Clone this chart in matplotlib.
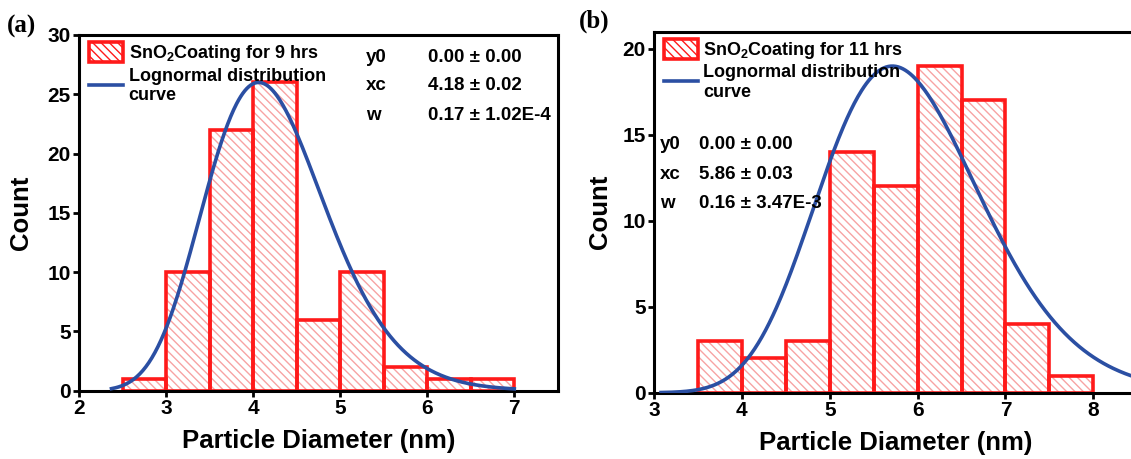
import numpy as np
import matplotlib
matplotlib.use("Agg")
import matplotlib.pyplot as plt
from matplotlib.patches import Patch
from matplotlib.lines import Line2D

plt.rcParams['font.family'] = ['Liberation Sans', 'DejaVu Sans']
plt.rcParams['hatch.linewidth'] = 1.0
plt.rcParams['mathtext.fontset'] = 'custom'
plt.rcParams['mathtext.rm'] = 'Liberation Sans:bold'
plt.rcParams['mathtext.bf'] = 'Liberation Sans:bold'

# ---- data: particle size histograms (bin left edges, counts) ----
bin_width = 0.5
bins_9h = [2.5, 3.0, 3.5, 4.0, 4.5, 5.0, 5.5, 6.0, 6.5]
counts_9h = [1, 10, 22, 26, 6, 10, 2, 1, 1]

bins_11h = [3.5, 4.0, 4.5, 5.0, 5.5, 6.0, 6.5, 7.0, 7.5]
counts_11h = [3, 2, 3, 14, 12, 19, 17, 4, 1]

# lognormal fit parameters (y0, xc, w) and fitted peak heights
fit_9h = dict(y0=0.0, xc=4.18, w=0.17, peak=26.0, x_range=(2.37, 7.0))
fit_11h = dict(y0=0.0, xc=5.86, w=0.16, peak=19.0, x_range=(3.08, 8.6))

param_rows_9h = [("y0", "0.00 \u00b1 0.00"), ("xc", "4.18 \u00b1 0.02"),
                 ("w", "0.17 \u00b1 1.02E-4")]
param_rows_11h = [("y0", "0.00 \u00b1 0.00"), ("xc", "5.86 \u00b1 0.03"),
                  ("w", "0.16 \u00b1 3.47E-3")]

RED = '#ff1a1a'
HATCH = '#f7a3a3'
BLUE = '#2b4fa3'


def lognormal(x, y0, xc, w, peak):
    # Origin-style LogNormal, amplitude set from the peak height at the mode
    mode = xc * np.exp(-w ** 2)
    area = peak * np.sqrt(2 * np.pi) * w * mode * np.exp(w ** 2 / 2)
    return y0 + area / (np.sqrt(2 * np.pi) * w * x) * np.exp(
        -np.log(x / xc) ** 2 / (2 * w ** 2))


def draw_panel(ax, bins, counts, fit, label, rows, row_xy, xlim, ylim,
               xticks, yticks):
    # hatched fill, then the solid red outline on top
    ax.bar(bins, counts, width=bin_width, align='edge', color='white',
           edgecolor=HATCH, linewidth=0, hatch='\\\\\\\\', zorder=1)
    ax.bar(bins, counts, width=bin_width, align='edge', fill=False,
           edgecolor=RED, linewidth=2.6, zorder=2)
    x = np.linspace(fit['x_range'][0], fit['x_range'][1], 400)
    ax.plot(x, lognormal(x, fit['y0'], fit['xc'], fit['w'], fit['peak']),
            color=BLUE, lw=2.6, zorder=3, clip_on=True)

    ax.set_xlim(*xlim)
    ax.set_ylim(*ylim)
    ax.set_xticks(xticks)
    ax.set_yticks(yticks)
    for s in ax.spines.values():
        s.set_linewidth(2.2)
    ax.tick_params(direction='out', length=4, width=2, labelsize=15,
                   pad=2)
    for t in ax.get_xticklabels() + ax.get_yticklabels():
        t.set_fontweight('bold')
    ax.set_xlabel('Particle Diameter (nm)', fontsize=18.5, fontweight='bold',
                  labelpad=8)
    ax.set_ylabel('Count', fontsize=18.5, fontweight='bold')

    handles = [Patch(facecolor='white', edgecolor=RED, hatch='\\\\\\\\',
                     linewidth=2.6),
               Line2D([], [], color=BLUE, lw=2.6)]
    leg = ax.legend(handles, [label, 'Lognormal distribution\ncurve'],
                    loc='upper left', frameon=False,
                    prop=dict(weight='bold', size=13),
                    handlelength=1.9, handleheight=1.3, handletextpad=0.3,
                    labelspacing=0.2, borderaxespad=0.0,
                    bbox_to_anchor=(0.005, 1.0))
    for t in leg.get_texts():
        t.set_fontweight('bold')

    (xk, xv, y, dy) = row_xy
    for i, (k, v) in enumerate(rows):
        ax.text(xk, y - i * dy, k, transform=ax.transAxes, fontsize=13.5,
                fontweight='bold', va='center', ha='left')
        ax.text(xv, y - i * dy, v, transform=ax.transAxes, fontsize=13.5,
                fontweight='bold', va='center', ha='left')


fig = plt.figure(figsize=(11.31, 4.59), dpi=100)
W, H = 1131.0, 459.0

ax1 = fig.add_axes([79.3 / W, 1 - 390.7 / H, (557.8 - 79.3) / W,
                    (390.7 - 35.0) / H])
ax2 = fig.add_axes([654.0 / W, 1 - 392.7 / H, (1137.3 - 654.0) / W,
                    (392.7 - 31.7) / H])

draw_panel(ax1, bins_9h, counts_9h, fit_9h,
           'SnO$_2$Coating for 9 hrs', param_rows_9h,
           ((366 - 79.3) / 478.5, (428 - 79.3) / 478.5,
            1 - (57 - 35) / 355.7, 29 / 355.7),
           (2, 7.5), (0, 30), [2, 3, 4, 5, 6, 7], [0, 5, 10, 15, 20, 25, 30])

draw_panel(ax2, bins_11h, counts_11h, fit_11h,
           'SnO$_2$Coating for 11 hrs', param_rows_11h,
           ((660 - 654) / 483.3, (699 - 654) / 483.3,
            1 - (145 - 31.7) / 361, 29.5 / 361),
           (3, 8.5), (0, 21), [3, 4, 5, 6, 7, 8], [0, 5, 10, 15, 20])

ax1.yaxis.set_label_coords(-0.097, 0.5)
ax2.yaxis.set_label_coords(-0.087, 0.5)

fig.text(7 / W, 1 - 26 / H, '(a)', family='Liberation Serif',
         fontweight='bold', fontsize=18, va='center', ha='left')
fig.text(579 / W, 1 - 21 / H, '(b)', family='Liberation Serif',
         fontweight='bold', fontsize=18, va='center', ha='left')

fig.savefig('out.png', dpi=100)
